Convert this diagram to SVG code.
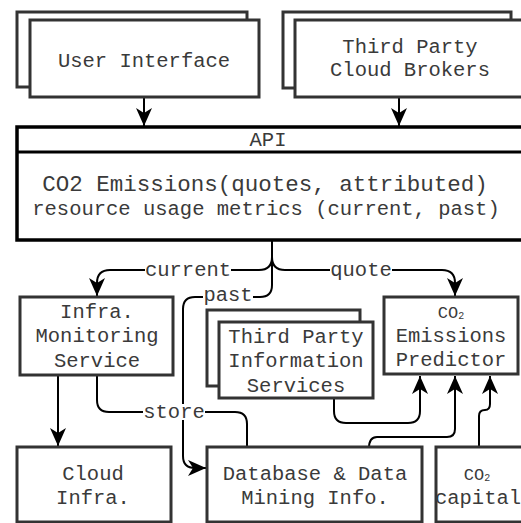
<svg xmlns="http://www.w3.org/2000/svg" width="521" height="523" viewBox="0 0 521 523">
  <style>
    .box { fill: #fff; stroke: #333; stroke-width: 3; }
    .api { fill: #fff; stroke: #000; stroke-width: 3.5; }
    .t { font-family: "Liberation Mono", "Courier New", monospace; font-size: 20.5px; fill: #3a3a3a; text-anchor: middle; }
    .big { font-size: 22.5px; }
    .sm { font-size: 17px; }
    .sub { font-size: 10px; }
    .edge { fill: none; stroke: #000; stroke-width: 2; }
    .lblbg { fill: #fff; }
  </style>
  <defs>
    <marker id="arrow" markerUnits="userSpaceOnUse" markerWidth="18" markerHeight="16" refX="18" refY="8" orient="auto">
      <path d="M0,0 L18,8 L0,16 L5,8 Z" fill="#000"/>
    </marker>
  </defs>
  <rect width="521" height="523" fill="#fff"/>

  <!-- connectors -->
  <g id="connectors">
    <path class="edge" d="M144,97 V126" marker-end="url(#arrow)"/>
    <path class="edge" d="M399,97 V126" marker-end="url(#arrow)"/>
    <path class="edge" d="M272,240 V257 Q272,270 259,270 H110 Q97,270 97,283 V296" marker-end="url(#arrow)"/>
    <path class="edge" d="M272,257 Q272,270 285,270 H442 Q455,270 455,283 V296" marker-end="url(#arrow)"/>
    <path class="edge" d="M272,240 V285 Q272,297 260,297 H195 Q183,297 183,309 V456 Q183,468 195,468 H206" marker-end="url(#arrow)"/>
    <path class="edge" d="M58,375 V446" marker-end="url(#arrow)"/>
    <path class="edge" d="M97,375 V400 Q97,412 109,412 H235 Q247,412 247,424 V447"/>
    <path class="edge" d="M334,398 V411 Q334,423 346,423 H408 Q420,423 420,411 V376" marker-end="url(#arrow)"/>
    <path class="edge" d="M369,448 Q369,437 377,437 H447 Q455,437 455,429 V376" marker-end="url(#arrow)"/>
    <path class="edge" d="M479,447 V416 Q479,410 485,410 Q490,410 490,404 V376" marker-end="url(#arrow)"/>
    <!-- edge labels -->
    <rect class="lblbg" x="145" y="262" width="86" height="16"/>
    <text class="t" x="188" y="276">current</text>
    <rect class="lblbg" x="330" y="262" width="62" height="16"/>
    <text class="t" x="361" y="276">quote</text>
    <rect class="lblbg" x="203" y="289" width="50" height="16"/>
    <text class="t" x="228" y="301">past</text>
    <rect class="lblbg" x="143" y="404" width="62" height="16"/>
    <text class="t" x="174" y="418">store</text>
  </g>

  <g id="user-interface">
    <rect class="box" x="17" y="12" width="230" height="75"/>
    <rect class="box" x="30" y="20" width="229" height="77"/>
    <text class="t" x="144" y="67">User Interface</text>
  </g>

  <g id="cloud-brokers">
    <rect class="box" x="283" y="12" width="228" height="76"/>
    <rect class="box" x="295" y="20" width="232" height="77"/>
    <text class="t" x="410" y="53">Third Party</text>
    <text class="t" x="410" y="76">Cloud Brokers</text>
  </g>

  <g id="api">
    <rect class="api" x="17" y="127" width="512" height="113"/>
    <line x1="17" y1="152" x2="529" y2="152" stroke="#000" stroke-width="3"/>
    <text class="t" x="268" y="146">API</text>
    <text class="t big" x="265" y="191">CO2 Emissions(quotes, attributed)</text>
    <text class="t" x="266" y="215">resource usage metrics (current, past)</text>
  </g>

  <g id="infra-monitoring">
    <rect class="box" x="20" y="297" width="153" height="78"/>
    <text class="t" x="97" y="318">Infra.</text>
    <text class="t" x="97" y="342">Monitoring</text>
    <text class="t" x="97" y="367">Service</text>
  </g>

  <g id="info-services">
    <rect class="box" x="207" y="310" width="153" height="76"/>
    <rect class="box" x="219" y="322" width="154" height="76"/>
    <text class="t" x="296" y="343">Third Party</text>
    <text class="t" x="296" y="367">Information</text>
    <text class="t" x="296" y="392">Services</text>
  </g>

  <g id="emissions-predictor">
    <rect class="box" x="384" y="297" width="134" height="77"/>
    <text class="t sm" x="451" y="318">CO<tspan class="sub" dy="1">2</tspan></text>
    <text class="t" x="451" y="342">Emissions</text>
    <text class="t" x="451" y="366">Predictor</text>
  </g>

  <g id="cloud-infra">
    <rect class="box" x="17" y="447" width="154" height="75"/>
    <text class="t" x="93" y="480">Cloud</text>
    <text class="t" x="93" y="504">Infra.</text>
  </g>

  <g id="database">
    <rect class="box" x="207" y="447" width="215" height="75"/>
    <text class="t" x="315" y="480">Database &amp; Data</text>
    <text class="t" x="315" y="504">Mining Info.</text>
  </g>

  <g id="co2-capital">
    <rect class="box" x="436" y="447" width="92" height="75"/>
    <text class="t sm" x="477" y="480">CO<tspan class="sub" dy="1">2</tspan></text>
    <text class="t" x="478" y="504">capital</text>
  </g>
</svg>
